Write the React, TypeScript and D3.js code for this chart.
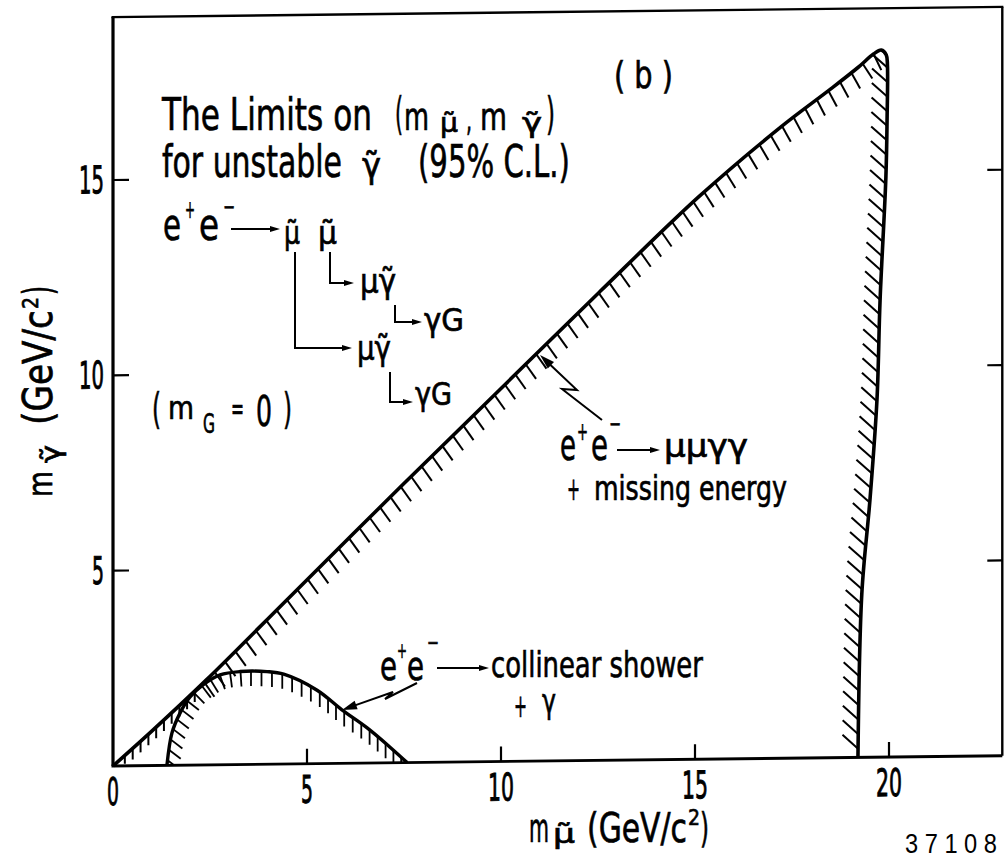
import React, { useLayoutEffect, useRef, useState } from "react";
import * as d3 from "d3";

// Axis tick values
const xTickValues = [0, 5, 10, 15, 20];
const yTickValues = [5, 10, 15];

// Boundary of the region excluded by e+e- -> μμγγ + missing energy  [m_μ̃, m_γ̃] (GeV/c²)
const muonGammaEdge: [number, number][] = [
  [0, 0], [1, 0.88], [2.4, 2.17], [4.55, 4.27], [7.4, 7.05], [10, 9.55], [12.55, 12.0],
  [15.1, 14.4], [17.2, 16.15], [18.5, 17.12], [19.2, 17.66], [19.6, 18.0], [19.8, 18.1],
  [19.93, 17.97], [19.96, 17.7], [19.95, 16.3], [19.92, 14.85], [19.77, 11.7],
  [19.69, 9.15], [19.51, 6.6], [19.3, 4.2], [19.2, 0],
];

// Boundary of the region excluded by e+e- -> collinear shower + γ
const showerEdge: [number, number][] = [
  [1.39, 0], [1.52, 0.83], [1.73, 1.34], [1.98, 1.74], [2.32, 2.05], [2.76, 2.3],
  [3.27, 2.38], [3.97, 2.37], [4.4, 2.3], [5.26, 1.88], [5.9, 1.37], [6.55, 0.9],
  [7.14, 0.4], [7.58, 0],
];

const W = 1004;
const H = 860;
const X_MAX = 22.92;
const Y_MAX = 19.17;

const x = d3.scaleLinear().domain([0, 20]).range([113, 889]);
const y = d3.scaleLinear().domain([0, 15]).range([766, 180]);

const edgeLine = d3
  .line<[number, number]>()
  .x((d) => x(d[0]))
  .y((d) => y(d[1]))
  .curve(d3.curveCatmullRom.alpha(0.5));

const FONT = "DejaVu Sans";
const deg = Math.PI / 180;

type Seg = { x1: number; y1: number; x2: number; y2: number };
type Rule = (px: number, py: number, tx: number, ty: number) => { a: number; len: number } | null;

function sampleHatches(path: SVGPathElement, step: number, rule: Rule): Seg[] {
  const L = path.getTotalLength();
  const out: Seg[] = [];
  for (let l = step / 2; l < L; l += step) {
    const p = path.getPointAtLength(l);
    const a = path.getPointAtLength(Math.max(0, l - 1));
    const b = path.getPointAtLength(Math.min(L, l + 1));
    let tx = b.x - a.x;
    let ty = b.y - a.y;
    const n = Math.hypot(tx, ty) || 1;
    tx /= n;
    ty /= n;
    const r = rule(p.x, p.y, tx, ty);
    if (r) {
      out.push({
        x1: p.x,
        y1: p.y,
        x2: p.x + Math.cos(r.a) * r.len,
        y2: p.y + Math.sin(r.a) * r.len,
      });
    }
  }
  return out;
}

// Condensed lettering: each run of text is squeezed horizontally to a set width
let measureCtx: CanvasRenderingContext2D | null = null;
function naturalWidth(t: string, s: number, family: string) {
  if (!measureCtx) measureCtx = document.createElement("canvas").getContext("2d");
  if (!measureCtx) return t.length * s * 0.6;
  measureCtx.font = `${s}px "${family}"`;
  return measureCtx.measureText(t).width || 1;
}

type TP = {
  x: number; y: number; s: number; w: number; children: string;
  anchor?: "start" | "middle" | "end"; family?: string; sw?: number;
};
const Txt = ({ x, y, s, w, children, anchor = "start", family = FONT, sw = 0.7 }: TP) => {
  const k = w / naturalWidth(children, s, family);
  return (
    <text
      transform={`translate(${x},${y}) scale(${k.toFixed(4)},1)`}
      fontSize={s}
      fontFamily={family}
      textAnchor={anchor}
      fill="#000"
      stroke="#000"
      strokeWidth={sw}
    >
      {children}
    </text>
  );
};

// Polyline whose last segment ends in a filled arrowhead
function Pointer({ pts, head = 10, half = 3, sw = 2 }: { pts: [number, number][]; head?: number; half?: number; sw?: number }) {
  const [x2, y2] = pts[pts.length - 1];
  const [x1, y1] = pts[pts.length - 2];
  const ang = Math.atan2(y2 - y1, x2 - x1);
  const c = Math.cos(ang);
  const s = Math.sin(ang);
  const bx = x2 - c * head;
  const by = y2 - s * head;
  const line = pts.slice(0, -1).concat([[bx + c * 2, by + s * 2]]);
  return (
    <g>
      <polyline points={line.map((p) => p.join(",")).join(" ")} fill="none" stroke="#000" strokeWidth={sw} strokeLinejoin="miter" />
      <polygon points={`${x2},${y2} ${bx - s * half},${by + c * half} ${bx + s * half},${by - c * half}`} fill="#000" />
    </g>
  );
}

export default function App() {
  const limitRef = useRef<SVGPathElement>(null);
  const showerRef = useRef<SVGPathElement>(null);
  const [hatch, setHatch] = useState<{ limit: Seg[]; shower: Seg[] }>({ limit: [], shower: [] });

  const limitD = edgeLine(muonGammaEdge) || "";
  const showerD = edgeLine(showerEdge) || "";

  useLayoutEffect(() => {
    const lp = limitRef.current;
    const sp = showerRef.current;
    if (!lp || !sp) return;
    const y0 = y(0);
    // light vertical strokes under the diagonal, below the crossing with the shower curve
    const nearOrigin = sampleHatches(lp, 10.5, (px, py, tx, ty) => {
      if (!(ty < 0 && tx > 0.3) || x.invert(px) > 2.3) return null;
      const len = Math.min(11, y0 - py - 2);
      return len > 2 ? { a: 90 * deg, len } : null;
    });
    // hatching along the diagonal and around the tip / steep side
    const main = sampleHatches(lp, 14.5, (px, py, tx, ty) => {
      if (ty < 0 && tx > 0.3) {
        if (x.invert(px) < 2.3) return null;
        return { a: Math.atan2(tx, -ty) + 9 * deg, len: 18 };
      }
      return { a: 180 * deg + 42 * deg, len: 21 };
    });
    const shower = sampleHatches(sp, 10.5, (px, py, tx, ty) => {
      let a = Math.atan2(tx, -ty);
      a = Math.max(38 * deg, Math.min(90 * deg, a));
      return { a, len: 15 };
    });
    setHatch({ limit: nearOrigin.concat(main), shower });
  }, [limitD, showerD]);

  const yTop = y(Y_MAX);
  const xRight = x(X_MAX);

  return (
    <svg
      width={W}
      height={H}
      viewBox={`0 0 ${W} ${H}`}
      style={{ position: "absolute", left: 0, top: 0, background: "#fff" }}
    >
      <defs>
        <clipPath id="limitClip">
          <path d={limitD + "Z"} />
        </clipPath>
        <clipPath id="showerClip">
          <path d={showerD + "Z"} />
        </clipPath>
      </defs>
      <rect width={W} height={H} fill="#fff" />

      {/* plot frame, axes, curves */}
      <g transform="translate(0,1.3) skewY(-0.66)">
        <line x1={x(0)} y1={yTop} x2={x(0)} y2={y(0)} stroke="#000" strokeWidth={3.2} />
        <line x1={x(0) - 1.5} y1={y(0)} x2={xRight} y2={y(0)} stroke="#000" strokeWidth={2.8} />
        <line x1={x(0) - 1.5} y1={yTop} x2={xRight + 1} y2={yTop} stroke="#000" strokeWidth={2.4} />
        <line x1={xRight} y1={yTop} x2={xRight} y2={y(0)} stroke="#000" strokeWidth={2.4} />

        {xTickValues.filter((v) => v > 0).map((v) => (
          <line key={"bt" + v} x1={x(v)} y1={y(0)} x2={x(v)} y2={y(0) - 15} stroke="#000" strokeWidth={2.2} />
        ))}
        {yTickValues.map((v) => (
          <g key={"yt" + v}>
            <line x1={x(0)} y1={y(v)} x2={x(0) + 16} y2={y(v)} stroke="#000" strokeWidth={2.2} />
            <line x1={xRight} y1={y(v)} x2={xRight - 15} y2={y(v)} stroke="#000" strokeWidth={2.2} />
          </g>
        ))}

        {xTickValues.map((v) => (
          <Txt key={"xl" + v} x={x(v)} y={805} s={38} w={v < 10 ? 12 : 26} anchor="middle" sw={1}>
            {String(v)}
          </Txt>
        ))}
        {yTickValues.map((v) => (
          <Txt key={"yl" + v} x={104} y={y(v) + 13} s={38} w={v < 10 ? 12 : 25} anchor="end" sw={1}>
            {String(v)}
          </Txt>
        ))}

        <g clipPath="url(#limitClip)">
          {hatch.limit.map((h, i) => (
            <line key={"hl" + i} x1={h.x1} y1={h.y1} x2={h.x2} y2={h.y2} stroke="#000" strokeWidth={2} />
          ))}
        </g>
        <g clipPath="url(#showerClip)">
          {hatch.shower.map((h, i) => (
            <line key={"hs" + i} x1={h.x1} y1={h.y1} x2={h.x2} y2={h.y2} stroke="#000" strokeWidth={1.8} />
          ))}
        </g>
        <path ref={limitRef} d={limitD} fill="none" stroke="#000" strokeWidth={3.6} strokeLinejoin="round" />
        <path ref={showerRef} d={showerD} fill="none" stroke="#000" strokeWidth={3.4} strokeLinejoin="round" />
      </g>

      {/* panel tag and title */}
      <Txt x={614} y={88} s={38} w={59}>( b )</Txt>
      <Txt x={162} y={130} s={45} w={210}>The Limits on</Txt>
      <Txt x={395} y={129} s={45} w={8}>(</Txt>
      <Txt x={404} y={130} s={38} w={25}>m</Txt>
      <Txt x={440} y={132} s={26} w={18}>μ̃</Txt>
      <Txt x={466} y={131} s={34} w={6}>,</Txt>
      <Txt x={480} y={130} s={38} w={27}>m</Txt>
      <Txt x={522} y={132} s={26} w={20}>γ̃</Txt>
      <Txt x={546} y={129} s={45} w={9}>)</Txt>
      <Txt x={162} y={177} s={45} w={180}>for unstable</Txt>
      <Txt x={362} y={178} s={36} w={19}>γ̃</Txt>
      <Txt x={418} y={177} s={45} w={152}>(95% C.L.)</Txt>

      {/* decay chain */}
      <Txt x={163} y={240} s={44} w={18}>e</Txt>
      <Txt x={185} y={218} s={24} w={10}>+</Txt>
      <Txt x={199} y={240} s={44} w={20}>e</Txt>
      <Txt x={223} y={215} s={24} w={12}>−</Txt>
      <Pointer pts={[[231, 229], [280, 229]]} />
      <Txt x={284} y={244} s={32} w={16}>μ̃</Txt>
      <Txt x={318} y={244} s={32} w={19}>μ̃</Txt>
      <Pointer pts={[[295, 252], [295, 348], [352, 348]]} />
      <Pointer pts={[[330, 252], [330, 283], [354, 283]]} />
      <Txt x={360} y={293} s={34} w={36}>μγ̃</Txt>
      <Txt x={357} y={360} s={34} w={34}>μγ̃</Txt>
      <Pointer pts={[[395, 305], [395, 322], [422, 322]]} />
      <Txt x={424} y={331} s={32} w={40}>γG</Txt>
      <Pointer pts={[[390, 372], [390, 402], [413, 402]]} />
      <Txt x={415} y={405} s={32} w={37}>γG</Txt>

      <Txt x={152} y={424} s={42} w={9}>(</Txt>
      <Txt x={168} y={419} s={32} w={26}>m</Txt>
      <Txt x={203} y={433} s={26} w={12}>G</Txt>
      <Txt x={231} y={420} s={32} w={13}>=</Txt>
      <Txt x={256} y={426} s={42} w={16}>0</Txt>
      <Txt x={283} y={424} s={42} w={9}>)</Txt>

      {/* μμγγ annotation */}
      <Txt x={560} y={460} s={44} w={16}>e</Txt>
      <Txt x={577} y={440} s={24} w={11}>+</Txt>
      <Txt x={591} y={460} s={44} w={17}>e</Txt>
      <Txt x={609} y={432} s={24} w={12}>−</Txt>
      <Pointer pts={[[617, 450], [660, 450]]} />
      <Txt x={664} y={457} s={32} w={84}>μμγγ</Txt>
      <Txt x={567} y={500} s={32} w={13}>+</Txt>
      <Txt x={594} y={500} s={33} w={193}>missing energy</Txt>
      <Pointer pts={[[602, 420], [562, 389], [577, 390], [540, 355]]} head={15} half={4.5} sw={2} />

      {/* collinear shower annotation */}
      <Txt x={380} y={680} s={40} w={17}>e</Txt>
      <Txt x={397} y={658} s={22} w={10}>+</Txt>
      <Txt x={407} y={680} s={40} w={17}>e</Txt>
      <Txt x={427} y={650} s={22} w={12}>−</Txt>
      <Pointer pts={[[437, 668], [489, 668]]} />
      <Txt x={491} y={677} s={36} w={212}>collinear shower</Txt>
      <Txt x={514} y={717} s={32} w={13}>+</Txt>
      <Txt x={542} y={713} s={34} w={14}>γ</Txt>
      <Pointer pts={[[417, 683], [385, 699], [393, 692], [342, 710]]} head={15} half={4.5} sw={2} />

      {/* axis titles */}
      <Txt x={529} y={842} s={40} w={20}>m</Txt>
      <Txt x={553} y={843} s={26} w={22}>μ̃</Txt>
      <Txt x={587} y={842} s={40} w={100}>(GeV/c</Txt>
      <Txt x={688} y={825} s={22} w={12}>2</Txt>
      <Txt x={700} y={842} s={40} w={9}>)</Txt>

      <g transform="translate(52,497) rotate(-90)">
        <Txt x={0} y={0} s={34} w={26}>m</Txt>
        <Txt x={34} y={8} s={26} w={18}>γ̃</Txt>
        <Txt x={72} y={0} s={40} w={115}>(GeV/c</Txt>
        <Txt x={188} y={-14} s={22} w={12}>2</Txt>
        <Txt x={202} y={0} s={40} w={9}>)</Txt>
      </g>

      <Txt x={905} y={853} s={27} w={92} family="Liberation Sans" sw={0}>3 7 1 0 8</Txt>
    </svg>
  );
}
